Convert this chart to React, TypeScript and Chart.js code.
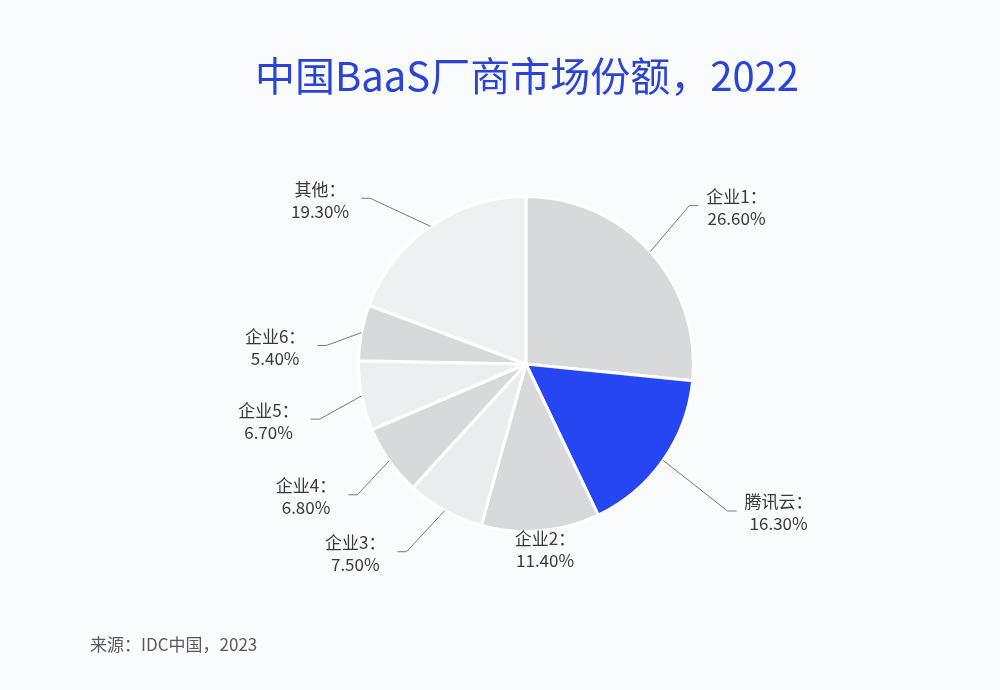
import { useEffect, useRef } from 'react'
import { Chart, registerables } from 'chart.js'
import type { Plugin } from 'chart.js'

Chart.register(...registerables)

const categories = ['企业1', '腾讯云', '企业2', '企业3', '企业4', '企业5', '企业6', '其他']
const shares = [26.6, 16.3, 11.4, 7.5, 6.8, 6.7, 5.4, 19.3]
const sliceColors = ['#d8d9db', '#2546f2', '#d8d9db', '#ebecee', '#d8d9db', '#eceef0', '#d8d9db', '#eff0f2']
// leader line: radial length past the pie edge (0 = label sits right under the slice)
const leaderLen = [60, 82, 0, 55, 46, 46, 33, 60]
// leader line: angle shift of the elbow vs. the slice middle, degrees
const leaderTurn = [-2, 1, 0, 3.5, -2.5, -4, -5.5, -8.5]

const TITLE = '中国BaaS厂商市场份额，2022'
const SOURCE = '来源：IDC中国，2023'
const FONT = '"Noto Sans CJK SC", "Noto Sans", sans-serif'

const decorPlugin: Plugin<'pie'> = {
  id: 'decor',
  beforeDraw(chart) {
    const { ctx, width, height } = chart
    ctx.save()
    ctx.fillStyle = '#fafbfd'
    ctx.fillRect(0, 0, width, height)
    ctx.restore()
  },
  afterDraw(chart) {
    const { ctx } = chart
    ctx.save()
    ctx.fillStyle = '#2a45d6'
    ctx.font = `40px ${FONT}`
    ctx.textAlign = 'center'
    ctx.textBaseline = 'middle'
    ctx.fillText(TITLE, 527, 76)

    ctx.fillStyle = '#5c5866'
    ctx.font = `17px ${FONT}`
    ctx.textAlign = 'left'
    ctx.fillText(SOURCE, 90, 645)

    const meta = chart.getDatasetMeta(0)
    ctx.font = `17px ${FONT}`
    const lineH = 22
    meta.data.forEach((el: any, i) => {
      const { x, y, startAngle, endAngle, outerRadius } = el.getProps(['x', 'y', 'startAngle', 'endAngle', 'outerRadius'], true)
      const mid = (startAngle + endAngle) / 2
      const lines = [`${categories[i]}：`, `${shares[i].toFixed(2)}%`]
      const w = Math.max(...lines.map((l) => ctx.measureText(l).width))
      ctx.fillStyle = '#3b3843'
      ctx.textBaseline = 'middle'
      ctx.textAlign = 'center'
      if (leaderLen[i] === 0) {
        const tx = x + Math.cos(mid) * (outerRadius + 4)
        const ty = y + Math.sin(mid) * (outerRadius + 4)
        lines.forEach((l, k) => ctx.fillText(l, tx + 4, ty + 4 + k * lineH))
        return
      }
      const turned = mid + (leaderTurn[i] * Math.PI) / 180
      const sx = x + Math.cos(mid) * outerRadius
      const sy = y + Math.sin(mid) * outerRadius
      const ex = x + Math.cos(turned) * (outerRadius + leaderLen[i])
      const ey = y + Math.sin(turned) * (outerRadius + leaderLen[i])
      const dir = Math.cos(mid) >= 0 ? 1 : -1
      const hx = ex + dir * 9
      ctx.strokeStyle = '#7a7a80'
      ctx.lineWidth = 1
      ctx.beginPath()
      ctx.moveTo(sx, sy)
      ctx.lineTo(ex, ey)
      ctx.lineTo(hx, ey)
      ctx.stroke()
      const cx = dir > 0 ? hx + 8 + w / 2 : hx - 12 - w / 2
      lines.forEach((l, k) => ctx.fillText(l, cx, ey - lineH / 2 + 2 + k * lineH))
    })
    ctx.restore()
  },
}

export default function App() {
  const canvasRef = useRef<HTMLCanvasElement>(null)

  useEffect(() => {
    const canvas = canvasRef.current
    if (!canvas) return
    const chart = new Chart(canvas, {
      type: 'pie',
      data: {
        labels: categories,
        datasets: [{
          data: shares,
          backgroundColor: sliceColors,
          borderColor: '#ffffff',
          borderWidth: 3,
        }],
      },
      options: {
        responsive: true,
        maintainAspectRatio: false,
        animation: false,
        layout: { padding: { top: 195, bottom: 157, left: 52, right: 0 } },
        plugins: {
          legend: { display: false },
          tooltip: { enabled: false },
        },
      },
      plugins: [decorPlugin],
    })
    return () => { chart.destroy() }
  }, [])

  return (
    <div style={{ position: 'fixed', left: 0, top: 0, width: 1000, height: 690 }}>
      <canvas ref={canvasRef} />
    </div>
  )
}
